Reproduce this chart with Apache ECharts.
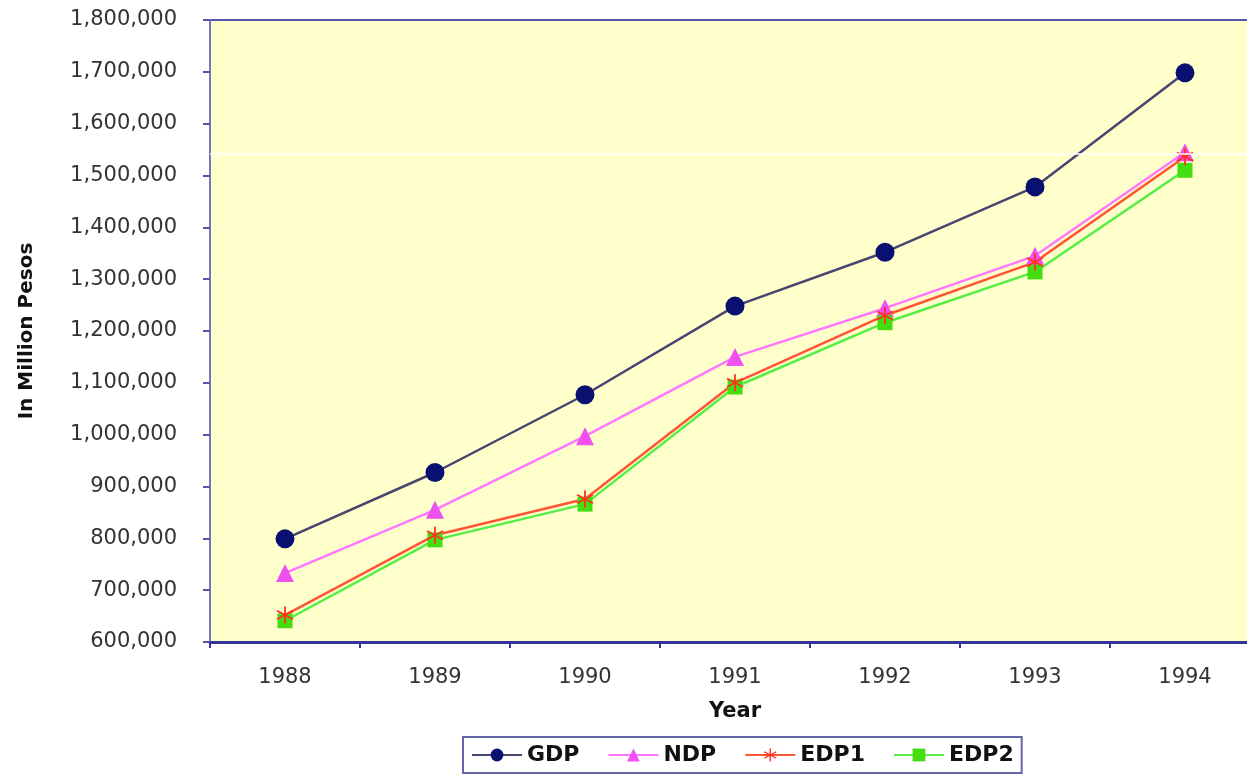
<!DOCTYPE html>
<html>
<head>
<meta charset="utf-8">
<script src="https://cdn.jsdelivr.net/npm/echarts@6/dist/echarts.min.js"></script>
<style>
html,body{margin:0;padding:0;background:#fff;overflow:hidden;width:1247px;height:778px;}
#chart{width:1260px;height:778px;}
</style>
</head>
<body>
<div id="chart"></div>
<script>
var years = ['1988','1989','1990','1991','1992','1993','1994'];
var gdp  = [799000, 927000, 1077000, 1248000, 1352000, 1478000, 1698000];
var ndp  = [733000, 855000,  997000, 1150000, 1244000, 1345000, 1545000];
var edp1 = [652000, 806000,  876000, 1100000, 1230000, 1333000, 1536000];
var edp2 = [641000, 797000,  866000, 1092000, 1216000, 1314000, 1510000];
var artifactLine = 1542500;

var asterisk = 'path://M-1,10L1,10L1,-10L-1,-10Z' +
  'M8.16,5.87L9.16,4.13L-8.16,-5.87L-9.16,-4.13Z' +
  'M-9.16,4.13L-8.16,5.87L9.16,-4.13L8.16,-5.87Z';

var FONT = 'DejaVu Sans';

function fmt(v){ return String(v).replace(/\B(?=(\d{3})+(?!\d))/g, ','); }

var chart = echarts.init(document.getElementById('chart'));
chart.setOption({
  animation: false,
  backgroundColor: '#ffffff',
  grid: {
    left: 210, right: 0, top: 20, bottom: 136,
    show: true, backgroundColor: '#FFFFCC',
    borderColor: '#5555AA', borderWidth: 2
  },
  xAxis: {
    type: 'category',
    data: years,
    boundaryGap: true,
    name: 'Year',
    nameLocation: 'middle',
    nameGap: 59,
    nameTextStyle: {fontFamily: FONT, fontWeight: 'bold', fontSize: 21, color: '#111'},
    axisLine: {lineStyle: {color: '#333399', width: 3}},
    axisTick: {show: true, length: 6, lineStyle: {color: '#333399', width: 2}},
    axisLabel: {margin: 25, fontFamily: FONT, fontSize: 21, color: '#333'},
    splitLine: {show: false}
  },
  yAxis: {
    type: 'value',
    min: 600000, max: 1800000, interval: 100000,
    name: 'In Million Pesos',
    nameLocation: 'middle',
    nameGap: 173,
    nameRotate: 90,
    nameTextStyle: {fontFamily: FONT, fontWeight: 'bold', fontSize: 20, color: '#111'},
    axisLine: {show: true, lineStyle: {color: '#7777BB', width: 2}},
    axisTick: {show: true, length: 7, lineStyle: {color: '#5555AA', width: 2}},
    axisLabel: {margin: 33, fontFamily: FONT, fontSize: 21, color: '#333', formatter: fmt},
    splitLine: {show: false}
  },
  legend: {
    left: 463, top: 737,
    orient: 'horizontal',
    itemWidth: 50, itemHeight: 16, itemGap: 28,
    padding: [7, 8, 7, 8],
    borderColor: '#6666AA', borderWidth: 2,
    backgroundColor: '#ffffff',
    textStyle: {fontFamily: FONT, fontWeight: 'bold', fontSize: 22, color: '#111'},
    data: ['GDP','NDP','EDP1','EDP2']
  },
  series: [
    {
      name: 'GDP', type: 'line', data: gdp,
      symbol: 'circle', symbolSize: 19,
      lineStyle: {color: '#46466E', width: 2.5},
      itemStyle: {color: '#0A1070'},
      markLine: {
        silent: true, symbol: ['none','none'], label: {show: false},
        lineStyle: {color: '#ffffff', width: 1.5, type: 'solid'},
        data: [{yAxis: artifactLine}], animation: false
      }
    },
    {
      name: 'NDP', type: 'line', data: ndp,
      symbol: 'triangle', symbolSize: 18,
      lineStyle: {color: '#FF77FF', width: 2.5},
      itemStyle: {color: '#F050F0'}
    },
    {
      name: 'EDP2', type: 'line', data: edp2,
      symbol: 'rect', symbolSize: 15,
      lineStyle: {color: '#55EE44', width: 2.5},
      itemStyle: {color: '#44DD11'}
    },
    {
      name: 'EDP1', type: 'line', data: edp1,
      symbol: asterisk, symbolSize: 17,
      lineStyle: {color: '#FF5533', width: 2.5},
      itemStyle: {color: '#FF3322'}
    }
  ]
});
</script>
</body>
</html>
